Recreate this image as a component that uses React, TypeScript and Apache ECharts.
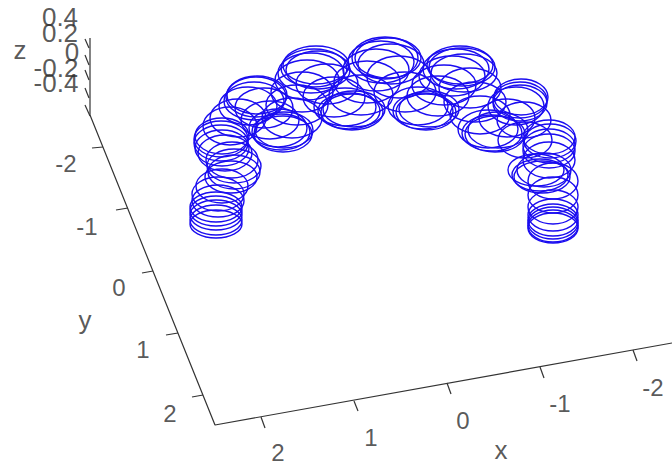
import React, { useEffect, useRef } from "react";
import * as echarts from "echarts";

type Ring = [number, number, number, number];

// Coil loops: centre across, centre down, half width, half height
const coilBottomLeft: Ring[] = [[216,224,26,14],[216,220,26,15],[216,215,26,15],[216,211,26,15],[216,207,26,15],[218,201,26,16],[218,194,26,17],[222,186,26,17]];
const coilLowLeft: Ring[] = [[231,177,26,16],[234,172,26,17],[234,166,27,17],[232,160,26,18]];
const coilMidLeft: Ring[] = [[225,153,27,18],[222,148,27,18],[221,143,27,18],[221,139,27,18],[222,136,27,18],[230,126,27,19],[238,118,28,19]];
const coilUpperLeft: Ring[] = [[248,106,29,19],[254,101,30,19],[256,97,30,20],[257,95,30,19],[264,108,29,20],[270,120,29,19]];
const coilInnerLeft: Ring[] = [[278,128,29,19],[281,132,29,18],[283,134,29,18],[284,130,29,18],[292,118,30,20],[297,105,31,20],[302,92,31,20]];
const coilTopLeft: Ring[] = [[307,80,32,20],[311,73,33,20],[314,68,33,19],[316,65,33,19],[318,70,32,19],[327,84,31,20],[334,97,31,20]];
const coilInnerCentreLeft: Ring[] = [[345,107,31,19],[349,111,31,18],[352,112,31,18],[354,109,31,18],[361,95,32,20],[367,82,33,21]];
const coilTop: Ring[] = [[376,70,33,21],[381,62,33,21],[385,58,33,21],[388,58,33,20],[391,64,33,20],[399,77,32,21],[405,92,31,20]];
const coilInnerCentreRight: Ring[] = [[418,106,30,19],[423,111,30,18],[426,112,30,18],[429,109,30,18],[438,96,31,20],[444,85,32,20]];
const coilTopRight: Ring[] = [[452,76,33,20],[456,69,33,20],[460,65,33,19],[462,67,33,19],[464,73,33,19],[470,88,31,20],[475,102,31,20],[480,115,30,19]];
const coilInnerRight: Ring[] = [[488,129,30,19],[492,133,30,18],[495,134,30,18],[498,130,30,18],[507,118,28,19]];
const coilUpperRight: Ring[] = [[516,106,28,19],[520,100,27,18],[521,97,27,18],[520,103,27,18],[524,120,27,18],[525,140,27,18]];
const coilLowRight: Ring[] = [[536,170,28,16],[540,175,28,16],[542,177,28,16],[544,170,27,17]];
const coilMidRight: Ring[] = [[549,160,26,18],[549,151,26,17],[549,146,26,17],[550,141,26,17],[549,137,26,17]];
const coilBottomRight: Ring[] = [[553,181,25,18],[553,195,25,18],[553,207,25,17],[553,215,25,16],[553,220,25,16],[553,223,25,16],[553,226,25,16],[553,228,25,15]];

const rings: Ring[] = [
  ...coilBottomLeft, ...coilLowLeft, ...coilMidLeft, ...coilUpperLeft, ...coilInnerLeft,
  ...coilTopLeft, ...coilInnerCentreLeft, ...coilTop, ...coilInnerCentreRight, ...coilTopRight,
  ...coilInnerRight, ...coilUpperRight, ...coilLowRight, ...coilMidRight, ...coilBottomRight,
];

// Axis frame: z axis, y axis, x axis joined
const axisFrame: number[][] = [[90,38],[90,115],[215,425],[672,343]];

// Tick segments: [start across, start down, end across, end down]
const zTicks = [[85,39,89,48],[85,55,89,65],[85,70,89,80],[85,88,89,98],[85,105,90,116]];
const yTicks = [[92,148,103,147],[116,210,128,208],[142,273,153,271],[166,335,178,333],[192,397,203,395]];
const xTicks = [[261,417,265,428],[354,401,358,411],[447,383,451,394],[540,367,544,378],[633,350,637,361]];
const allTicks = [...zTicks, ...yTicks, ...xTicks];

const zTickLabels = ["0.4", "0.2", "0", "-0.2", "-0.4"];
const zLabelSpots = [[60,17],[60,33],[72,52],[56,68],[56,83]];
const yTickLabels = ["-2", "-1", "0", "1", "2"];
const yLabelSpots = [[66,163],[87,226],[119,287],[143,349],[170,413]];
const xTickLabels = ["2", "1", "0", "-1", "-2"];
const xLabelSpots = [[278,452],[371,437],[463,420],[560,403],[653,387]];
const axisNames = ["x", "y", "z"];
const axisNameSpots = [[501,450],[85,320],[20,50]];

const INK = "#333333";
const TEXT = "#2e2e2e";
const COIL = "#1a0cf0";

function labelData(texts: string[], spots: number[][]) {
  return texts.map((t, i) => ({ value: spots[i], name: t }));
}

export default function App() {
  const ref = useRef<HTMLDivElement>(null);
  useEffect(() => {
    document.body.style.margin = "0";
    const chart = echarts.init(ref.current!, undefined, { renderer: "svg" });
    const labelStyle = (size: number) => ({
      show: true,
      position: "inside" as const,
      formatter: (p: any) => p.name,
      fontFamily: "Liberation Sans",
      fontSize: size,
      color: TEXT,
    });
    chart.setOption({
      animation: false,
      backgroundColor: "#ffffff",
      grid: { left: 0, right: 0, top: 0, bottom: 0 },
      xAxis: { type: "value", min: 0, max: 672, show: false },
      yAxis: { type: "value", min: 0, max: 465, inverse: true, show: false },
      series: [
        {
          type: "custom",
          coordinateSystem: "cartesian2d",
          clip: false,
          data: rings,
          renderItem: (_p: any, api: any) => {
            const c = api.coord([api.value(0), api.value(1)]);
            const s = api.size([api.value(2), api.value(3)]);
            return {
              type: "ellipse",
              shape: { cx: c[0], cy: c[1], rx: s[0], ry: s[1] },
              style: { fill: "none", stroke: COIL, lineWidth: 1.4 },
            };
          },
        },
        {
          type: "line",
          data: axisFrame,
          symbol: "none",
          silent: true,
          lineStyle: { color: INK, width: 1.2 },
        },
        {
          type: "custom",
          coordinateSystem: "cartesian2d",
          data: allTicks,
          renderItem: (_p: any, api: any) => {
            const a = api.coord([api.value(0), api.value(1)]);
            const b = api.coord([api.value(2), api.value(3)]);
            return {
              type: "line",
              shape: { x1: a[0], y1: a[1], x2: b[0], y2: b[1] },
              style: { stroke: INK, lineWidth: 1.2 },
            };
          },
        },
        {
          type: "scatter",
          symbolSize: 0,
          silent: true,
          data: labelData(zTickLabels, zLabelSpots),
          label: labelStyle(26),
          labelLayout: { hideOverlap: false },
        },
        {
          type: "scatter",
          symbolSize: 0,
          silent: true,
          data: [
            ...labelData(yTickLabels, yLabelSpots),
            ...labelData(xTickLabels, xLabelSpots),
          ],
          label: labelStyle(24),
          labelLayout: { hideOverlap: false },
        },
        {
          type: "scatter",
          symbolSize: 0,
          silent: true,
          data: labelData(axisNames, axisNameSpots),
          label: labelStyle(26),
        },
      ],
    });
    return () => chart.dispose();
  }, []);
  return <div ref={ref} style={{ width: 672, height: 465 }} />;
}
